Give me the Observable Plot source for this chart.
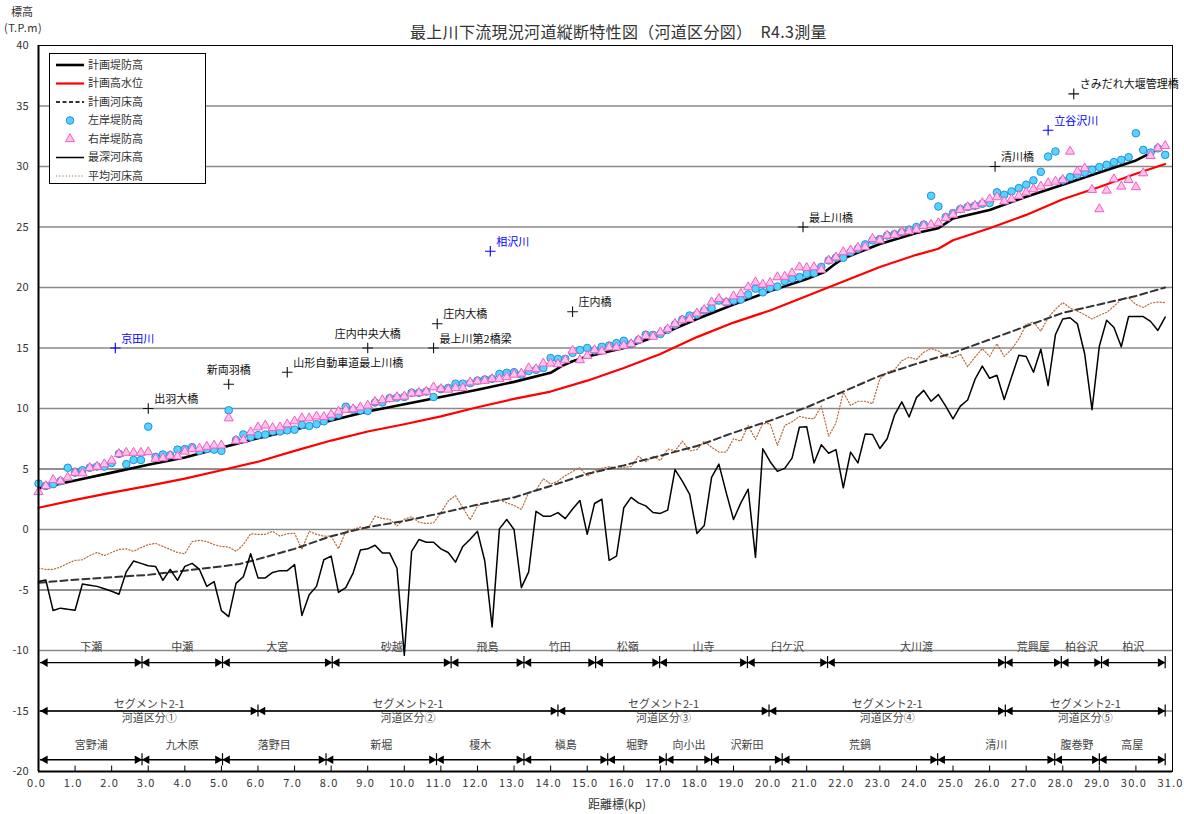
<!DOCTYPE html>
<html>
<head>
<meta charset="utf-8">
<script src="https://cdn.jsdelivr.net/npm/d3@7"></script>
<script src="https://cdn.jsdelivr.net/npm/@observablehq/plot@0.6"></script>
<style>
  body { margin: 0; background: #fff; font-family: "Noto Sans CJK JP", "Noto Sans", sans-serif; }
  #wrap { position: relative; width: 1184px; height: 814px; overflow: hidden; }
  #title { position: absolute; left: 410px; top: 19px; font-size: 16px; color: #333; white-space: nowrap; letter-spacing: 0.3px; }
  #ylab1 { position: absolute; left: 11px; top: 3px; font-size: 11px; color: #333; }
  #ylab2 { position: absolute; left: 4px; top: 19px; font-size: 11px; color: #333; letter-spacing: 0.5px; }
  #xlab { position: absolute; left: 0; width: 1234px; top: 795px; text-align: center; font-size: 12px; color: #333; }
  #legend { position: absolute; left: 49px; top: 53px; width: 155px; height: 129px; border: 1px solid #000; background: #fff; }
  #legend text { font-size: 11px; fill: #333; font-family: "Noto Sans CJK JP", sans-serif; }
  g[aria-label="x-axis tick label"] text { letter-spacing: 1.2px; }
</style>
</head>
<body>
<div id="wrap">
  <div id="chart"></div>
  <div id="title">最上川下流現況河道縦断特性図（河道区分図）　R4.3測量</div>
  <div id="ylab1">標高</div>
  <div id="ylab2">(T.P.m)</div>
  <div id="xlab">距離標(kp)</div>
  <div id="legend"><svg id="legsvg" width="155" height="129"></svg></div>
</div>
<script>
// ---- data (elevation T.P.m) ----
const kpStep = 0.2; // survey sections every 0.2 km from 0.0 kp

// 最深河床高
const deepBed = [
  -4.3, -4.17, -6.7, -6.5, -6.6, -6.67, -4.5, -4.6, -4.7, -4.9,
  -5.1, -5.35, -3.5, -2.6, -2.8, -3.0, -3.05, -4.2, -3.3, -4.2,
  -3.05, -2.8, -3.3, -4.7, -4.3, -6.7, -7.2, -4.45, -3.9, -2.0,
  -4.0, -4.0, -3.55, -3.4, -3.4, -2.9, -7.1, -5.4, -4.7, -2.5,
  -2.2, -5.2, -4.8, -3.6, -1.7, -1.6, -1.3, -1.95, -1.95, -3.2,
  -10.4, -1.8, -0.83, -1.05, -1.05, -1.6, -1.9, -2.7, -1.4, -0.8,
  -0.15, -2.6, -8.05, 0.05, 0.83, 0.0, -4.8, -3.5, 1.5, 1.1,
  1.1, 1.4, 0.9, 1.7, 2.4, -0.4, 2.15, 2.5, -2.55, -2.2,
  1.8, 2.65, 2.2, 1.95, 1.4, 1.33, 1.6, 4.95, 4.0, 2.9,
  -0.33, 0.33, 4.3, 5.4, 3.05, 0.83, 2.2, 3.33, -2.3, 6.67,
  5.6, 4.8, 5.05, 5.9, 8.45, 8.5, 5.5, 7.0, 6.3, 6.6,
  3.45, 6.4, 5.5, 7.9, 7.85, 6.7, 7.5, 9.45, 10.55, 9.3,
  10.9, 11.5, 10.6, 11.15, 10.2, 9.15, 10.2, 10.7, 12.4, 13.5,
  12.5, 12.75, 10.75, 12.6, 14.4, 14.3, 13.0, 14.9, 11.9, 16.1,
  17.4, 17.5, 17.0, 14.5, 9.9, 15.15, 17.3, 16.7, 15.1, 17.6,
  17.6, 17.6, 17.2, 16.45, 17.55
];

// 平均河床高
const avgBed = [
  -3.2, -3.3, -3.3, -3.1, -2.8, -2.55, -2.5, -2.15, -1.9, -2.15,
  -1.9, -1.65, -1.6, -1.8, -1.5, -1.25, -1.15, -1.4, -1.65, -1.9,
  -2.0, -1.0, -0.9, -1.0, -1.25, -1.4, -1.45, -1.8, -1.25, -0.35,
  -0.4, -0.4, -0.15, -0.55, -0.35, -0.3, -1.65, -0.15, -0.4, -0.55,
  -0.55, -1.6, -0.15, 0.0, 0.2, 0.05, 1.1, 0.9, 0.85, 0.3,
  0.85, 1.05, 0.6, 0.5, 0.55, 1.4, 2.35, 2.8, 1.8, 0.8,
  1.95, 2.2, 2.3, 2.45, 2.2, 2.0, 1.65, 3.05, 3.25, 4.2,
  3.75, 4.0, 4.45, 4.8, 5.1, 4.4, 4.85, 5.05, 5.2, 5.05,
  5.15, 5.2, 6.05, 5.6, 6.05, 5.7, 6.65, 6.5, 7.3, 6.5,
  6.6, 7.3, 6.8, 6.4, 6.4, 7.5, 7.3, 8.6, 7.45, 8.75,
  8.75, 6.95, 8.6, 8.9, 9.35, 9.2, 9.15, 10.2, 7.7, 8.8,
  11.35, 10.25, 10.6, 10.6, 10.4, 12.45, 13.0, 13.2, 13.95, 14.25,
  14.05, 14.65, 14.95, 14.75, 14.3, 14.2, 14.5, 13.45, 14.25, 14.95,
  14.3, 15.35, 14.3, 14.9, 15.75, 16.95, 17.15, 16.4, 17.5, 18.2,
  18.75, 18.3, 18.05, 17.75, 17.4, 17.7, 17.95, 18.45, 19.0, 19.15,
  18.6, 18.35, 18.7, 18.8, 18.75
];

// 左岸堤防高
const leftBank = [
  3.8, 3.6, 3.75, 4.0, 5.1, 4.7, 4.9, 5.1, 5.2, 5.2,
  5.5, 6.25, 5.4, 5.75, 5.75, 8.5, 6.0, 6.2, 6.15, 6.6,
  6.65, 6.8, 6.5, 6.65, 6.6, 6.5, 9.85, 7.4, 7.85, 7.65,
  7.8, 7.85, 8.1, 8.1, 8.2, 8.25, 8.65, 8.55, 8.7, 8.95,
  9.3, 9.5, 10.15, 9.9, 9.85, 9.8, 10.5, 10.5, 10.85, 10.9,
  10.95, 11.3, 11.3, 11.4, 10.95, 11.6, 11.7, 12.05, 12.05, 12.1,
  12.3, 12.4, 12.45, 12.85, 12.95, 13.0, 12.8, 13.1, 13.2, 13.35,
  14.17, 14.1, 14.1, 14.6, 14.83, 15.0, 14.8, 15.1, 15.2, 15.4,
  15.6, 15.33, 15.66, 16.1, 16.08, 16.16, 16.5, 16.93, 17.35, 17.68,
  17.76, 18.1, 18.3, 18.92, 18.78, 18.92, 19.0, 19.42, 19.9, 19.6,
  19.97, 20.08, 20.52, 20.72, 20.86, 21.13, 21.19, 21.7, 22.24, 22.46,
  22.46, 22.93, 23.2, 23.56, 23.9, 24.0, 24.3, 24.4, 24.57, 24.78,
  25.0, 25.2, 27.58, 26.7, 25.82, 26.15, 26.48, 26.65, 26.76, 26.92,
  26.98, 27.86, 27.66, 27.94, 28.21, 28.49, 28.85, 29.56, 30.82, 31.24,
  28.85, 29.12, 29.31, 29.5, 29.73, 29.95, 30.14, 30.36, 30.55, 30.77,
  32.75, 31.37, 31.15, 31.5, 30.96
];

// 右岸堤防高
const rightBank = [
  3.1, 3.6, 4.1, 4.0, 4.3, 4.7, 4.65, 5.1, 5.2, 5.4,
  5.7, 6.25, 6.35, 6.35, 6.35, 6.4, 5.85, 5.9, 6.1, 6.05,
  6.45, 6.65, 6.7, 6.85, 6.95, 6.95, 9.2, 7.35, 7.4, 8.05,
  8.45, 8.6, 8.4, 8.45, 8.7, 8.95, 9.2, 9.2, 9.35, 9.3,
  9.5, 9.75, 9.9, 9.95, 10.1, 10.25, 10.55, 10.7, 10.8, 10.95,
  11.0, 11.25, 11.3, 11.4, 11.76, 11.62, 11.57, 11.7, 11.7, 12.17,
  12.25, 12.3, 12.44, 12.44, 12.6, 12.8, 12.9, 13.34, 13.26, 13.73,
  13.73, 13.67, 14.0, 14.78, 14.0, 14.36, 14.83, 14.72, 15.05, 15.05,
  15.2, 15.33, 15.66, 16.0, 15.94, 16.3, 16.57, 17.0, 17.3, 17.4,
  17.87, 18.15, 18.78, 19.06, 18.78, 19.28, 19.47, 20.03, 20.44, 20.25,
  20.39, 20.86, 20.9, 21.19, 21.68, 21.63, 21.68, 21.46, 22.24, 22.5,
  22.93, 23.07, 23.29, 23.34, 24.03, 23.9, 24.3, 24.35, 24.58, 24.65,
  24.78, 25.1, 25.19, 25.33, 25.74, 26.02, 26.43, 26.65, 26.76, 26.98,
  27.3, 27.47, 27.12, 27.3, 27.58, 27.86, 28.13, 28.35, 28.63, 28.76,
  28.9, 31.24, 29.59, 29.86, 28.08, 26.48, 28.02, 28.96, 28.35, 28.9,
  28.3, 29.45, 30.88, 31.51, 31.7
];

// 計画堤防高
const leveeKp = [0, 1, 2, 3, 4, 5, 6, 7, 8, 9, 10, 11, 12, 13, 14, 14.3, 14.6, 15, 16, 17, 18, 19, 20, 21, 21.5, 21.8, 22, 23, 24, 24.6, 24.9, 25, 26, 27, 28, 29, 30, 30.8];
const leveeZ  = [3.4, 4.05, 4.7, 5.35, 5.95, 6.75, 7.55, 8.25, 9.0, 9.75, 10.35, 10.95, 11.55, 12.2, 12.95, 13.5, 13.9, 14.3, 15.0, 16.1, 17.4, 18.6, 19.7, 20.7, 21.3, 22.0, 22.4, 23.6, 24.5, 24.9, 25.5, 25.7, 26.4, 27.5, 28.5, 29.5, 30.5, 31.7];

// 計画高水位
const hwlKp = [0, 1, 2, 3, 4, 5, 6, 7, 8, 9, 10, 11, 12, 13, 14, 15, 16, 17, 18, 19, 20, 21, 21.5, 22, 23, 24, 24.6, 25, 26, 27, 28, 29, 30, 30.8];
const hwlZ  = [1.8, 2.45, 3.05, 3.6, 4.2, 4.9, 5.6, 6.5, 7.35, 8.1, 8.7, 9.35, 10.1, 10.8, 11.4, 12.3, 13.35, 14.5, 15.9, 17.1, 18.1, 19.3, 19.9, 20.5, 21.7, 22.7, 23.2, 23.9, 24.9, 26.0, 27.3, 28.3, 29.4, 30.2];

// 計画河床高
const planBedKp = [0, 1, 2, 3, 4, 5, 5.5, 6, 7, 8, 9, 10, 11, 12, 13, 14, 15, 16, 17, 18, 19, 20, 21, 22, 23, 24, 25, 26, 27, 28, 29, 30, 30.8];
const planBedZ  = [-4.4, -4.15, -3.95, -3.75, -3.4, -3.05, -2.85, -2.45, -1.6, -0.55, 0.2, 0.7, 1.35, 2.05, 2.65, 3.6, 4.6, 5.3, 6.1, 6.9, 8.0, 9.0, 10.1, 11.4, 12.7, 13.7, 14.6, 15.7, 16.8, 17.9, 18.6, 19.3, 20.0];

// 橋梁・支川
const markNames = ["京田川", "出羽大橋", "新両羽橋", "山形自動車道最上川橋", "庄内中央大橋", "最上川第2橋梁", "庄内大橋", "相沢川", "庄内橋", "最上川橋", "清川橋", "立谷沢川", "さみだれ大堰管理橋"];
const markKp    = [2.1, 3.0, 5.2, 6.8, 9.0, 10.8, 10.9, 12.35, 14.6, 20.9, 26.15, 27.6, 28.3];
const markZ     = [15, 10, 12, 13, 15, 15, 17, 23, 18, 25, 30, 33, 36];
const markKind  = ["river", "bridge", "bridge", "bridge", "bridge", "bridge", "bridge", "river", "bridge", "bridge", "bridge", "river", "bridge"];

// 区間（地区名）
const districtNames  = ["下瀬", "中瀬", "大宮", "砂越", "飛島", "竹田", "松嶺", "山寺", "臼ケ沢", "大川渡", "荒興屋", "柏谷沢", "柏沢"];
const districtBounds = [0.05, 2.83, 5.03, 8.03, 11.28, 13.27, 15.23, 16.98, 19.38, 21.57, 26.43, 27.96, 29.06, 30.8];
// 河道区分
const segmentNames  = ["河道区分①", "河道区分②", "河道区分③", "河道区分④", "河道区分⑤"];
const segmentTop    = "セグメント2-1";
const segmentBounds = [0.05, 6.0, 14.2, 19.97, 26.43, 30.8];
// 字名
const placeNames  = ["宮野浦", "九木原", "落野目", "新堀", "榎木", "槇島", "堀野", "向小出", "沢新田", "荒鍋", "清川", "腹巻野", "高屋"];
const placeBounds = [0.05, 2.83, 5.03, 7.86, 10.88, 13.27, 15.56, 17.16, 18.4, 20.33, 24.58, 27.78, 29.0, 30.8];

const xTicks = d3.range(0, 32, 1);
const yTicks = d3.range(-20, 41, 5);

// ---- build tables ----
const kpOf = i => Math.round(i * kpStep * 10) / 10;
const sections = deepBed.map((d, i) => ({kp: kpOf(i), deep: d, avg: avgBed[i], left: leftBank[i], right: rightBank[i]}));
const levee = leveeKp.map((k, i) => ({kp: k, z: leveeZ[i]}));
const hwl = hwlKp.map((k, i) => ({kp: k, z: hwlZ[i]}));
const planBed = planBedKp.map((k, i) => ({kp: k, z: planBedZ[i]}));
const marks = markNames.map((n, i) => ({name: n, kp: markKp[i], z: markZ[i], kind: markKind[i]}));
const centered = new Set(["新両羽橋", "庄内中央大橋"]);
const segsOf = (names, bounds) => names.map((n, i) => ({name: n, a: bounds[i], b: bounds[i + 1], mid: (bounds[i] + bounds[i + 1]) / 2}));
const districts = segsOf(districtNames, districtBounds);
const segments = segsOf(segmentNames, segmentBounds);
const places = segsOf(placeNames, placeBounds);

const colorOf = k => k === "river" ? "#0000ff" : "#111";

function rangeRow(data, yLine) {
  return [
    Plot.ruleY(data, {x1: "a", x2: "b", y: () => yLine, stroke: "#000", strokeWidth: 1.4}),
    Plot.dot(data, {x: "a", y: () => yLine, symbol: "triangle", r: 3.2, rotate: -90, dx: 4.8, fill: "#000", stroke: "none"}),
    Plot.dot(data, {x: "b", y: () => yLine, symbol: "triangle", r: 3.2, rotate: 90, dx: -4.8, fill: "#000", stroke: "none"}),
    Plot.ruleX(data, {x: "b", y1: () => yLine - 0.5, y2: () => yLine + 0.5, stroke: "#000", strokeWidth: 1.2})
  ];
}

const labelStyle = {fontSize: 11, fill: "#444"};

const chart = Plot.plot({
  width: 1184,
  height: 814,
  marginLeft: 38,
  marginRight: 12,
  marginTop: 45,
  marginBottom: 43,
  x: {domain: [0, 31]},
  y: {domain: [-20, 40]},
  style: {fontFamily: "'Noto Sans CJK JP', 'Noto Sans', sans-serif", fontSize: "11px", color: "#333", background: "transparent"},
  marks: [
    Plot.ruleY([35, 30, 25, 20, 15, 10, 0, -10, -15], {stroke: "#8a8a8a", strokeWidth: 1.6}),
    Plot.ruleY([5, -5], {stroke: "#222", strokeWidth: 1}),
    Plot.line(sections, {x: "kp", y: "avg", stroke: "#b8693a", strokeWidth: 1.2, strokeDasharray: "1.2,2"}),
    Plot.line(planBed, {x: "kp", y: "z", stroke: "#333", strokeWidth: 2, strokeDasharray: "7,4"}),
    Plot.line(sections, {x: "kp", y: "deep", stroke: "#000", strokeWidth: 1.5}),
    Plot.line(hwl, {x: "kp", y: "z", stroke: "#ff0000", strokeWidth: 2.2}),
    Plot.line(levee, {x: "kp", y: "z", stroke: "#000", strokeWidth: 2.6}),
    Plot.dot(sections, {x: "kp", y: "left", r: 3.8, fill: "#55d4ff", stroke: "#2a8ed6", strokeWidth: 1}),
    Plot.dot(sections, {x: "kp", y: "right", symbol: "triangle", r: 3.4, fill: "#ffc2ea", stroke: "#f25cc3", strokeWidth: 1}),
    // landmarks
    Plot.dot(marks, {x: "kp", y: "z", symbol: "plus", r: 3.5, stroke: d => colorOf(d.kind), strokeWidth: 1.1}),
    Plot.text(marks.filter(d => !centered.has(d.name)), {x: "kp", y: "z", text: "name", textAnchor: "start", dx: 6, dy: -9, fontSize: 11, fill: d => colorOf(d.kind)}),
    Plot.text(marks.filter(d => centered.has(d.name)), {x: "kp", y: "z", text: "name", textAnchor: "middle", dy: -14, fontSize: 11, fill: d => colorOf(d.kind)}),
    // bottom rows
    ...rangeRow(districts, -11),
    Plot.text(districts, {x: "mid", y: () => -9.75, text: "name", ...labelStyle}),
    ...rangeRow(segments, -15),
    Plot.text(segments, {x: "mid", y: () => -14.45, text: () => segmentTop, ...labelStyle}),
    Plot.text(segments, {x: "mid", y: () => -15.65, text: "name", ...labelStyle}),
    ...rangeRow(places, -19.03),
    Plot.text(places, {x: "mid", y: () => -17.86, text: "name", ...labelStyle}),
    // frame & axes
    Plot.ruleX(xTicks.filter(d => d > 0 && d < 31), {y1: -20, y2: -19.55, stroke: "#000"}),
    Plot.frame({stroke: "#000", strokeWidth: 1}),
    Plot.ruleX([0], {stroke: "#000", strokeWidth: 2}),
    Plot.ruleY([-20], {stroke: "#000", strokeWidth: 2}),
    Plot.axisY({ticks: yTicks, tickSize: 0, tickPadding: 10, tickFormat: d => String(d), label: null, fontSize: 11}),
    Plot.axisX({ticks: xTicks, tickSize: 0, tickPadding: 8, tickFormat: d => d.toFixed(1), label: null, fontSize: 11, dx: -2})
  ]
});
document.getElementById("chart").appendChild(chart);

// ---- legend ----
const legendItems = [
  {label: "計画堤防高", type: "line", stroke: "#000", width: 2.6, dash: null},
  {label: "計画高水位", type: "line", stroke: "#ff0000", width: 2.2, dash: null},
  {label: "計画河床高", type: "line", stroke: "#333", width: 2, dash: "4,2.5"},
  {label: "左岸堤防高", type: "circle"},
  {label: "右岸堤防高", type: "triangle"},
  {label: "最深河床高", type: "line", stroke: "#000", width: 1.5, dash: null},
  {label: "平均河床高", type: "line", stroke: "#b8693a", width: 1.2, dash: "1.2,2"}
];
const leg = d3.select("#legsvg");
legendItems.forEach((it, i) => {
  const y = 11 + i * 18.5;
  if (it.type === "line") {
    leg.append("line").attr("x1", 6).attr("x2", 34).attr("y1", y).attr("y2", y)
      .attr("stroke", it.stroke).attr("stroke-width", it.width).attr("stroke-dasharray", it.dash);
  } else if (it.type === "circle") {
    leg.append("circle").attr("cx", 20).attr("cy", y).attr("r", 3.8).attr("fill", "#55d4ff").attr("stroke", "#2a8ed6");
  } else {
    leg.append("path").attr("transform", `translate(20,${y})`)
      .attr("d", d3.symbol(d3.symbolTriangle, Math.PI * 3.4 * 3.4)()).attr("fill", "#ffc2ea").attr("stroke", "#f25cc3");
  }
  leg.append("text").attr("x", 38).attr("y", y).attr("dy", "0.35em").text(it.label);
});
</script>
</body>
</html>
